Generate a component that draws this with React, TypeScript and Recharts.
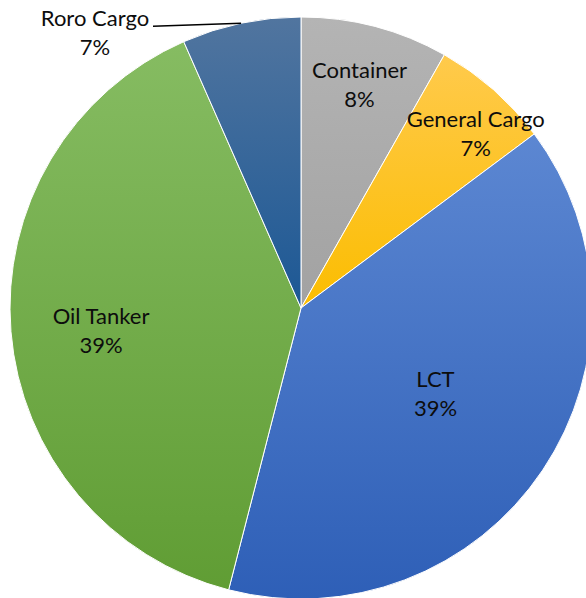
import { PieChart, Pie, Cell } from 'recharts';

const categories = ['Container', 'General Cargo', 'LCT', 'Oil Tanker', 'Roro Cargo'];
const shares = [8.2, 6.6, 39.2, 39.4, 6.6];

// top / bottom colours of each slice's vertical gradient
const topColors = ['#b4b4b4', '#ffca4c', '#5c87d2', '#86bc62', '#51759f'];
const bottomColors = ['#a2a2a2', '#fbbd00', '#2e5fb7', '#609d34', '#1c5895'];

// label placement (Excel "best fit"): share of radius and angle nudge in degrees
const labelRadius = [0.79, 0.845, 0.55, 0.692, 0];
const labelNudge = [0, -3.9, 1, 2.1, 0];

const data = categories.map((name, i) => ({ name, value: shares[i] }));

const RADIAN = Math.PI / 180;
const FONT = 'Lato, "Open Sans", sans-serif';

function renderLabel(props: any) {
  const { cx, cy, midAngle, outerRadius, percent, index, name } = props;
  const pct = `${Math.round(percent * 100)}%`;

  if (index === 4) {
    // outside label with leader line
    const ex = cx + outerRadius * Math.cos(-midAngle * RADIAN);
    const ey = cy + outerRadius * Math.sin(-midAngle * RADIAN);
    const tx = 95;
    return (
      <g>
        <line x1={ex} y1={ey} x2={153} y2={ey + 3} stroke="#000" strokeWidth={1.5} />
        <text x={tx} y={26} textAnchor="middle" fill="#0d0d0d" fontSize={22} fontFamily={FONT}>
          <tspan x={tx} dy={0}>{name}</tspan>
          <tspan x={tx} dy={29}>{pct}</tspan>
        </text>
      </g>
    );
  }

  const r = outerRadius * labelRadius[index];
  const a = (midAngle + labelNudge[index]) * RADIAN;
  const x = cx + r * Math.cos(-a);
  const y = cy + r * Math.sin(-a);
  return (
    <text x={x} y={y - 8} textAnchor="middle" fill="#0d0d0d" fontSize={22} fontFamily={FONT}>
      <tspan x={x} dy={0}>{name}</tspan>
      <tspan x={x} dy={29}>{pct}</tspan>
    </text>
  );
}

export default function App() {
  return (
    <div style={{ position: 'fixed', left: 0, top: 0, width: 586, height: 598, background: '#fff' }}>
      <PieChart width={586} height={598} margin={{ top: 0, right: 0, bottom: 0, left: 0 }}>
        <defs>
          {categories.map((c, i) => (
            <linearGradient key={c} id={`grad${i}`} x1="0" y1="0" x2="0" y2="1">
              <stop offset="0%" stopColor={topColors[i]} />
              <stop offset="100%" stopColor={bottomColors[i]} />
            </linearGradient>
          ))}
        </defs>
        <Pie
          data={data}
          dataKey="value"
          nameKey="name"
          cx={301}
          cy={308}
          outerRadius={291}
          startAngle={90}
          endAngle={-270}
          stroke="#ffffff"
          strokeWidth={1}
          label={renderLabel}
          labelLine={false}
          isAnimationActive={false}
        >
          {data.map((d, i) => (
            <Cell key={d.name} fill={`url(#grad${i})`} />
          ))}
        </Pie>
      </PieChart>
    </div>
  );
}
